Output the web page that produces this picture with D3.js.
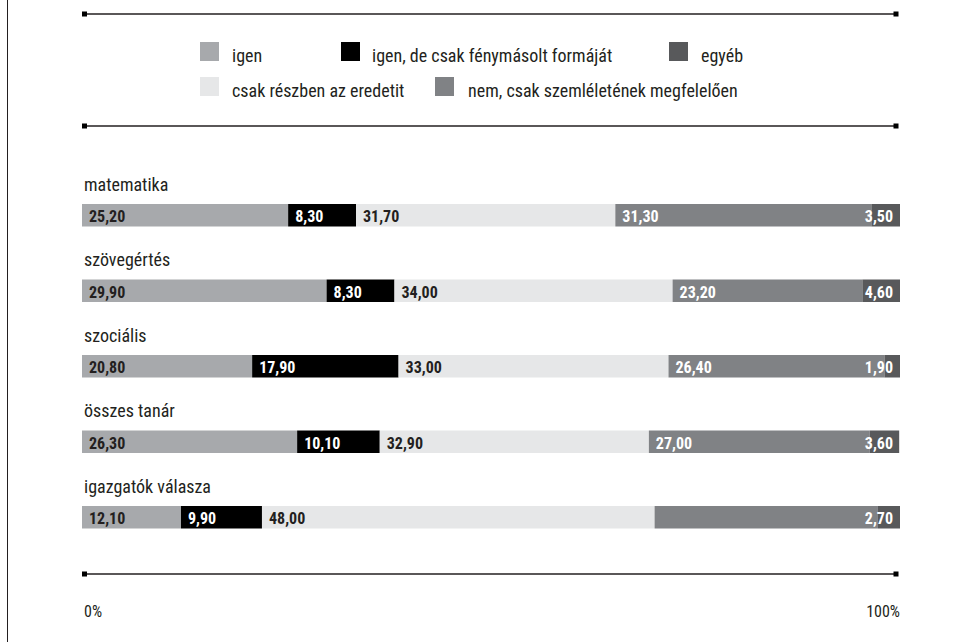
<!DOCTYPE html>
<html>
<head>
<meta charset="utf-8">
<script src="https://cdn.jsdelivr.net/npm/d3@7"></script>
<style>
  html, body { margin: 0; padding: 0; background: #fff; }
  svg { display: block; }
  text { font-family: "Liberation Sans Narrow", "Arial Narrow", "Roboto Condensed", "DejaVu Sans Condensed", sans-serif; }
</style>
</head>
<body>
<svg id="chart" width="963" height="642"></svg>
<script>
// ---- data ----
const categories = ["matematika", "szövegértés", "szociális", "összes tanár", "igazgatók válasza"];
const seriesNames = ["igen", "igen, de csak fénymásolt formáját", "csak részben az eredetit", "nem, csak szemléletének megfelelően", "egyéb"];
const igen       = [25.2, 29.9, 20.8, 26.3, 12.1];
const fenymasolt = [8.3, 8.3, 17.9, 10.1, 9.9];
const reszben    = [31.7, 34.0, 33.0, 32.9, 48.0];
const nem        = [31.3, 23.2, 26.4, 27.0, 27.3];
const egyeb      = [3.5, 4.6, 1.9, 3.6, 2.7];
const hiddenLabels = [["igazgatók válasza", "nem, csak szemléletének megfelelően"]];
const axisTicks = [0, 100];
const axisTickLabels = ["0%", "100%"];

const colors = ["#a7a9ac", "#000000", "#e6e7e8", "#808285", "#58595b"];
const labelColors = ["#231f20", "#ffffff", "#231f20", "#ffffff", "#ffffff"];

// ---- build table ----
const seriesValues = [igen, fenymasolt, reszben, nem, egyeb];
const table = categories.map((c, i) => {
  const row = { cat: c };
  seriesNames.forEach((s, j) => row[s] = seriesValues[j][i]);
  return row;
});
const stacked = d3.stack().keys(seriesNames)(table);

const svg = d3.select("#chart");
const x = d3.scaleLinear().domain([0, 100]).range([82, 900]);
const y = d3.scalePoint().domain(categories).range([204, 506]);
const bh = 22.5;

// left border
svg.append("line").attr("x1", 7.5).attr("x2", 7.5).attr("y1", 0).attr("y2", 642)
  .attr("stroke", "#231f20").attr("stroke-width", 1);

// rules with end squares
function rule(yy) {
  const g = svg.append("g");
  g.append("line").attr("x1", x(0) + 2).attr("x2", x(100) - 3).attr("y1", yy).attr("y2", yy)
    .attr("stroke", "#231f20").attr("stroke-width", 1.5);
  [x(0) + 2.5, x(100) - 4].forEach(cx => {
    g.append("rect").attr("x", cx - 2.5).attr("y", yy - 2.5).attr("width", 5).attr("height", 5).attr("fill", "#000");
  });
}
rule(14);
rule(126);
rule(574);

// legend
const legendPos = [
  { sx: 200, sy: 42, tx: 232 },
  { sx: 341, sy: 42, tx: 372 },
  { sx: 669, sy: 42, tx: 701 },
  { sx: 200, sy: 77, tx: 232 },
  { sx: 435, sy: 77, tx: 468 }
];
const legendOrder = [0, 1, 4, 2, 3];
legendOrder.forEach((si, k) => {
  const p = legendPos[k];
  svg.append("rect").attr("x", p.sx).attr("y", p.sy).attr("width", 19).attr("height", 19).attr("fill", colors[si]);
  svg.append("text").attr("x", p.tx).attr("y", p.sy + 19.5).attr("font-size", 18).attr("fill", "#231f20")
    .text(seriesNames[si]);
});

// category labels
svg.append("g").selectAll("text").data(categories).join("text")
  .attr("x", x(0) + 2).attr("y", d => y(d) - 13.5)
  .attr("font-size", 18).attr("fill", "#231f20").text(d => d);

// bars
const fmt = v => d3.format(".2f")(v).replace(".", ",");
stacked.forEach((layer, j) => {
  const g = svg.append("g");
  g.selectAll("rect").data(layer).join("rect")
    .attr("x", d => x(d[0])).attr("width", d => x(d[1]) - x(d[0]))
    .attr("y", d => y(d.data.cat)).attr("height", bh)
    .attr("fill", colors[j]);
  const isLast = j === seriesNames.length - 1;
  g.selectAll("text").data(layer.filter(d => !hiddenLabels.some(h => h[0] === d.data.cat && h[1] === layer.key)))
    .join("text")
    .attr("x", d => isLast ? x(100) - 7 : x(d[0]) + 7)
    .attr("text-anchor", isLast ? "end" : "start")
    .attr("y", d => y(d.data.cat) + 18)
    .attr("font-size", 16).attr("font-weight", "bold")
    .attr("fill", labelColors[j])
    .text(d => fmt(d[1] - d[0]));
});

// axis labels
svg.append("g").selectAll("text").data(axisTicks).join("text")
  .attr("x", (d, i) => i === 0 ? x(d) + 2 : x(d))
  .attr("text-anchor", (d, i) => i === 0 ? "start" : "end")
  .attr("y", 617).attr("font-size", 16).attr("fill", "#231f20")
  .text((d, i) => axisTickLabels[i]);
</script>
</body>
</html>
